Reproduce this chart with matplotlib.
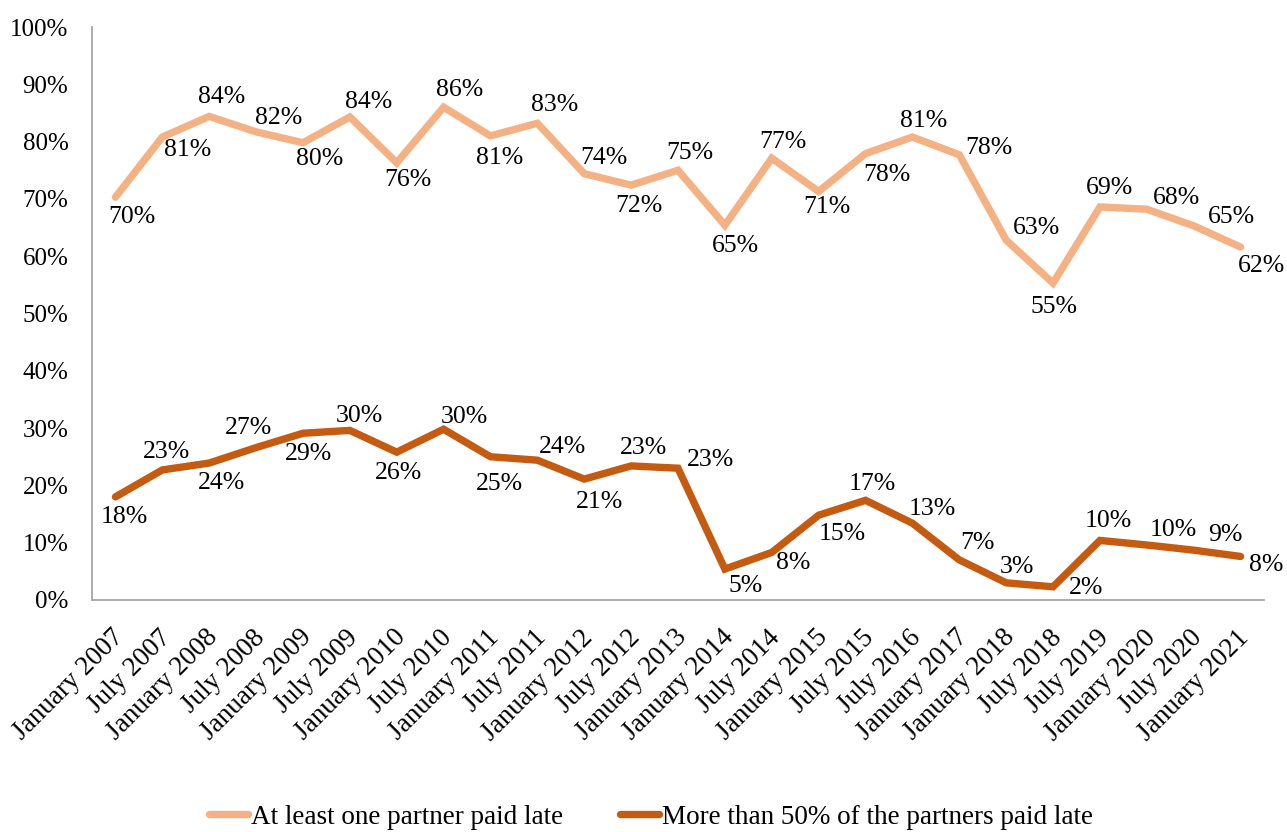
import matplotlib
matplotlib.use("Agg")
import matplotlib.pyplot as plt
import matplotlib.transforms as mtransforms

periods = ["January 2007", "July 2007", "January 2008", "July 2008", "January 2009",
           "July 2009", "January 2010", "July 2010", "January 2011", "July 2011",
           "January 2012", "July 2012", "January 2013", "January 2014", "July 2014",
           "January 2015", "July 2015", "July 2016", "January 2017", "January 2018",
           "July 2018", "July 2019", "January 2020", "July 2020", "January 2021"]

at_least_one = [70.3, 80.8, 84.4, 81.7, 79.8, 84.3, 76.3, 86.0, 81.0, 83.2,
                74.4, 72.4, 75.0, 65.4, 77.1, 71.3, 77.9, 80.8, 77.7, 62.8,
                55.3, 68.6, 68.2, 65.3, 61.6]

more_than_half = [18.0, 22.7, 23.9, 26.6, 29.1, 29.6, 25.8, 29.8, 25.0, 24.4,
                  21.1, 23.4, 23.0, 5.4, 8.3, 14.8, 17.4, 13.4, 7.0, 3.0,
                  2.3, 10.4, 9.6, 8.7, 7.6]

series_names = ["At least one partner paid late", "More than 50% of the partners paid late"]
y_ticks = [0, 10, 20, 30, 40, 50, 60, 70, 80, 90, 100]

# label placement (pixels: dx right, dy down)
offsets_top = [(16, 20), (25, 13), (12, -19), (23, -14), (17, 16), (19, -15), (11, 17),
               (16, -17), (9, 22), (17, -18), (20, -16), (8, 21), (12, -17), (11, 21),
               (11, -16), (8, 16), (21, 21), (11, -16), (30, -7), (30, -12), (1, 24),
               (10, -19), (30, -11), (38, -9), (21, 19)]
offsets_bot = [(9, 20), (4, -18), (12, 20), (-8, -20), (6, 21), (10, -14), (2, 21),
               (21, -12), (9, 27), (25, -13), (15, 23), (12, -18), (33, -8), (21, 17),
               (21, 11), (24, 19), (7, -16), (20, -14), (18, -17), (11, -16), (33, 1),
               (8, -19), (26, -15), (32, -15), (26, 9)]

FONT = "Liberation Serif"
plt.rcParams["font.family"] = [FONT, "DejaVu Serif"]

c_light = "#F4B183"
c_dark = "#C55A11"
spine_c = "#A6A6A6"

fig = plt.figure(figsize=(12.87, 8.32), dpi=100)
ax = fig.add_axes([92 / 1287, 1 - 600 / 832, (1264 - 92) / 1287, (600 - 27) / 832])

x = list(range(len(periods)))
l1, = ax.plot(x, at_least_one, color=c_light, lw=5.3, solid_capstyle="round",
              solid_joinstyle="miter", label=series_names[0])
l2, = ax.plot(x, more_than_half, color=c_dark, lw=5.3, solid_capstyle="round",
              solid_joinstyle="miter", label=series_names[1])

for vals, offs in ((at_least_one, offsets_top), (more_than_half, offsets_bot)):
    for xi, v, (dx, dy) in zip(x, vals, offs):
        ax.annotate(f"{round(v):d}%", (xi, v), xytext=(dx, -dy), textcoords="offset pixels",
                    ha="center", va="center", fontsize=18.5, color="black")

ax.set_xlim(-0.5, len(periods) - 0.5)
ax.set_ylim(0, 100)
ax.set_yticks(y_ticks)
ax.set_yticklabels([f"{t}%" for t in y_ticks], fontsize=18)
ax.set_xticks(x)
ax.set_xticklabels(periods, rotation=45, ha="right", va="top", rotation_mode="anchor",
                   fontsize=19.5)
ax.tick_params(axis="y", length=0, pad=17)
ax.tick_params(axis="x", length=0, pad=18)
shift = mtransforms.ScaledTranslation(-4 / 100, 0, fig.dpi_scale_trans)
for lab in ax.get_xticklabels():
    lab.set_transform(lab.get_transform() + shift)

for s in ("top", "right"):
    ax.spines[s].set_visible(False)
for s in ("left", "bottom"):
    ax.spines[s].set_color(spine_c)
    ax.spines[s].set_linewidth(1.3)

fig.legend(handles=[l1, l2], loc="center", bbox_to_anchor=(651 / 1287, 1 - 817 / 832),
           ncol=2, frameon=False, fontsize=19.5, handlelength=1.45, handletextpad=0.1,
           columnspacing=2.1)

fig.savefig("out.png", dpi=100)
